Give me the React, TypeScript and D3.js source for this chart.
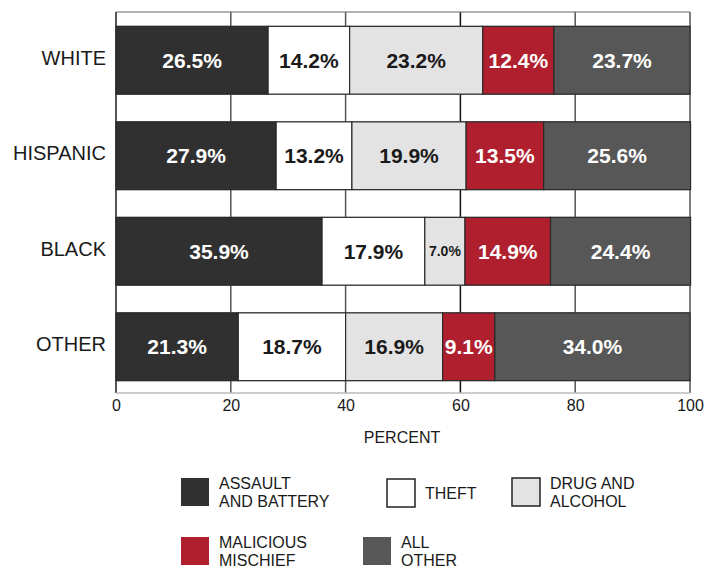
import React, { useEffect, useRef } from "react";
import * as d3 from "d3";

const races = ["WHITE", "HISPANIC", "BLACK", "OTHER"];
const offenses = ["assault", "theft", "drug", "mischief", "other"];
const legendLabels = [
  ["ASSAULT", "AND BATTERY"],
  ["THEFT"],
  ["DRUG AND", "ALCOHOL"],
  ["MALICIOUS", "MISCHIEF"],
  ["ALL", "OTHER"],
];
const assault = [26.5, 27.9, 35.9, 21.3];
const theft = [14.2, 13.2, 17.9, 18.7];
const drug = [23.2, 19.9, 7.0, 16.9];
const mischief = [12.4, 13.5, 14.9, 9.1];
const allOther = [23.7, 25.6, 24.4, 34.0];
const xTicks = [0, 20, 40, 60, 80, 100];

const fills = ["#303030", "#ffffff", "#e3e3e3", "#b01f2e", "#575757"];
const textColors = ["#fff", "#1a1a1a", "#1a1a1a", "#fff", "#fff"];
const FONT = "'Liberation Sans', Arial, Helvetica, sans-serif";

export default function App() {
  const ref = useRef<SVGSVGElement>(null);

  useEffect(() => {
    const svg = d3.select(ref.current);
    svg.selectAll("*").remove();

    const rows = races.map((r, i) => ({
      race: r,
      assault: assault[i],
      theft: theft[i],
      drug: drug[i],
      mischief: mischief[i],
      other: allOther[i],
    }));
    const series = d3.stack<any>().keys(offenses)(rows);

    const x = d3.scaleLinear().domain([0, 100]).range([116, 690]);
    const y = d3
      .scaleBand()
      .domain(races)
      .range([12.5, 394.5])
      .paddingInner(0.29)
      .paddingOuter(0.145);

    // grid frame
    const grid = svg.append("g");
    grid
      .selectAll("line.v")
      .data(xTicks)
      .join("line")
      .attr("x1", (d) => x(d))
      .attr("x2", (d) => x(d))
      .attr("y1", 12)
      .attr("y2", 393)
      .attr("stroke", (d) => (d === 60 ? "#111" : "#555"))
      .attr("stroke-width", (d) => (d === 0 ? 2 : 1.5));
    grid
      .append("line")
      .attr("x1", x(0))
      .attr("x2", x(100))
      .attr("y1", 12)
      .attr("y2", 12)
      .attr("stroke", "#666")
      .attr("stroke-width", 1.2);
    grid
      .append("line")
      .attr("x1", x(0))
      .attr("x2", x(100))
      .attr("y1", 393)
      .attr("y2", 393)
      .attr("stroke", "#bbb")
      .attr("stroke-width", 1.5);
    races.forEach((r) => {
      [y(r)!, y(r)! + y.bandwidth()].forEach((yy) => {
        grid
          .append("line")
          .attr("x1", x(0))
          .attr("x2", x(100))
          .attr("y1", yy)
          .attr("y2", yy)
          .attr("stroke", "#888")
          .attr("stroke-width", 1);
      });
    });

    // bars
    const layer = svg
      .selectAll("g.layer")
      .data(series)
      .join("g")
      .attr("class", "layer");

    layer
      .selectAll("rect")
      .data((s) => s.map((d) => ({ d, key: s.key, i: s.index })))
      .join("rect")
      .attr("x", (p) => x(p.d[0]))
      .attr("y", (p) => y(p.d.data.race)!)
      .attr("width", (p) => x(p.d[1]) - x(p.d[0]))
      .attr("height", y.bandwidth())
      .attr("fill", (p) => fills[p.i])
      .attr("stroke", "#2a2a2a")
      .attr("stroke-width", 1.2);

    layer
      .selectAll("text")
      .data((s) => s.map((d) => ({ d, key: s.key, i: s.index })))
      .join("text")
      .attr("x", (p) => (x(p.d[0]) + x(p.d[1])) / 2)
      .attr("y", (p) => y(p.d.data.race)! + y.bandwidth() / 2)
      .attr("dy", "0.36em")
      .attr("text-anchor", "middle")
      .attr("font-family", FONT)
      .attr("font-weight", "bold")
      .attr("font-size", (p) => (p.d[1] - p.d[0] < 10 && p.i === 2 ? 14 : 21))
      .attr("fill", (p) => textColors[p.i])
      .text((p) => (p.d[1] - p.d[0]).toFixed(1) + "%");

    // y labels
    const yAxis = d3.axisLeft(y).tickSize(0).tickPadding(0);
    const yAxisG = svg
      .append("g")
      .attr("transform", `translate(106,-2)`)
      .call(yAxis);
    yAxisG.select(".domain").remove();
    yAxisG
      .selectAll("text")
      .attr("font-family", FONT)
      .attr("font-size", 20)
      .attr("fill", "#1a1a1a");

    // x axis
    const xAxis = d3.axisBottom(x).tickValues(xTicks).tickSize(0).tickPadding(0);
    const xAxisG = svg.append("g").attr("transform", `translate(0,400)`).call(xAxis);
    xAxisG.select(".domain").remove();
    xAxisG
      .selectAll("text")
      .attr("font-family", FONT)
      .attr("font-size", 16)
      .attr("fill", "#1a1a1a");

    svg
      .append("text")
      .attr("x", 402)
      .attr("y", 443)
      .attr("text-anchor", "middle")
      .attr("font-family", FONT)
      .attr("font-size", 16)
      .attr("fill", "#1a1a1a")
      .text("PERCENT");

    // legend
    const legendPos = [
      [181, 478],
      [387, 479],
      [512, 478],
      [181, 537],
      [363, 537],
    ];
    const leg = svg
      .selectAll("g.leg")
      .data(offenses)
      .join("g")
      .attr("class", "leg")
      .attr("transform", (_, i) => `translate(${legendPos[i][0]},${legendPos[i][1]})`);
    leg
      .append("rect")
      .attr("width", 28)
      .attr("height", 28)
      .attr("fill", (_, i) => fills[i])
      .attr("stroke", (_, i) => (i === 1 || i === 2 ? "#222" : "none"))
      .attr("stroke-width", 1.5);
    leg
      .selectAll("text")
      .data((_, i) => legendLabels[i])
      .join("text")
      .attr("font-family", FONT)
      .attr("font-size", 16)
      .attr("fill", "#1a1a1a")
      .attr("x", 38)
      .attr("y", (_, j, nodes) => (nodes.length === 1 ? 20 : 11 + j * 18))
      .text((t) => t);
  }, []);

  return (
    <svg
      ref={ref}
      width={708}
      height={571}
      style={{ position: "absolute", left: 0, top: 0, background: "#fff" }}
    />
  );
}
